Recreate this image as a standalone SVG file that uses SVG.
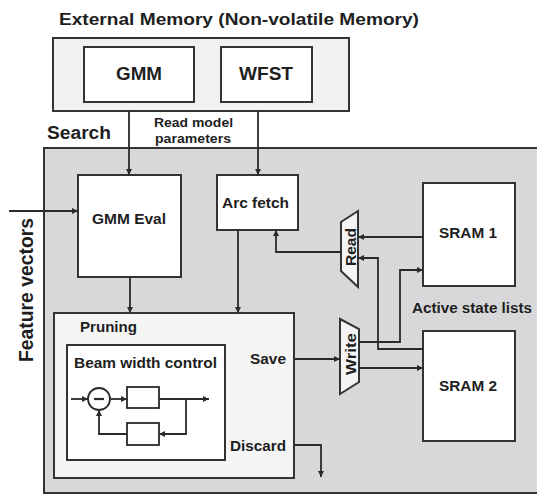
<svg xmlns="http://www.w3.org/2000/svg" width="537" height="497" viewBox="0 0 537 497">
<defs>
<marker id="ah" viewBox="0 0 10 10" refX="10" refY="5" markerWidth="6" markerHeight="6" markerUnits="userSpaceOnUse" orient="auto">
<path d="M0,0 L10,5 L0,10 z" fill="#2a2a2a"/>
</marker>
<style>
.t{font-family:"Liberation Sans",Arial,sans-serif;font-weight:bold;fill:#1e1e1e}
.box{fill:#ffffff;stroke:#333;stroke-width:2}
.ln{fill:none;stroke:#2a2a2a;stroke-width:1.8}
.ar{fill:none;stroke:#2a2a2a;stroke-width:1.8;marker-end:url(#ah)}
</style>
</defs>
<rect x="0" y="0" width="537" height="497" fill="#ffffff"/>
<text class="t" x="59" y="25" font-size="17" textLength="360" lengthAdjust="spacingAndGlyphs">External Memory (Non-volatile Memory)</text>
<g id="external-memory">
<rect x="53" y="38" width="296" height="73" fill="#f1f1f1" stroke="#333" stroke-width="2"/>
</g>
<g id="gmm">
<rect class="box" x="84" y="47" width="110" height="55"/>
<text class="t" x="139" y="80" font-size="18" text-anchor="middle" textLength="46" lengthAdjust="spacingAndGlyphs">GMM</text>
</g>
<g id="wfst">
<rect class="box" x="221" y="47" width="91" height="55"/>
<text class="t" x="266" y="80" font-size="18.5" text-anchor="middle" textLength="54" lengthAdjust="spacingAndGlyphs">WFST</text>
</g>
<text class="t" x="47" y="139" font-size="18" textLength="64" lengthAdjust="spacingAndGlyphs">Search</text>
<text class="t" x="193.5" y="127" font-size="12" text-anchor="middle" textLength="79" lengthAdjust="spacingAndGlyphs">Read model</text>
<text class="t" x="193" y="143" font-size="12" text-anchor="middle" textLength="76" lengthAdjust="spacingAndGlyphs">parameters</text>
<g id="search">
<rect x="44" y="148" width="500" height="345" fill="#d8d8da" stroke="#333" stroke-width="2"/>
</g>
<text class="t" transform="translate(33,290) rotate(-90)" font-size="19.5" text-anchor="middle" textLength="144" lengthAdjust="spacingAndGlyphs">Feature vectors</text>
<g id="gmm-eval">
<rect class="box" x="78" y="175" width="103" height="102"/>
<text class="t" x="129" y="224" font-size="15.5" text-anchor="middle" textLength="74" lengthAdjust="spacingAndGlyphs">GMM Eval</text>
</g>
<g id="arc-fetch">
<rect class="box" x="217" y="175" width="81" height="55"/>
<text class="t" x="255.5" y="208" font-size="15.5" text-anchor="middle" textLength="67" lengthAdjust="spacingAndGlyphs">Arc fetch</text>
</g>
<g id="sram1">
<rect class="box" x="423" y="183" width="92" height="103"/>
<text class="t" x="468" y="238" font-size="15" text-anchor="middle" textLength="58" lengthAdjust="spacingAndGlyphs">SRAM 1</text>
</g>
<text class="t" x="472" y="313" font-size="14.5" text-anchor="middle" textLength="120" lengthAdjust="spacingAndGlyphs">Active state lists</text>
<g id="sram2">
<rect class="box" x="423" y="331" width="92" height="110"/>
<text class="t" x="468" y="391" font-size="15" text-anchor="middle" textLength="58" lengthAdjust="spacingAndGlyphs">SRAM 2</text>
</g>
<g id="read-mux">
<polygon points="341,222 358,211 358,287 341,271" fill="#f4f4f4" stroke="#333" stroke-width="2"/>
<text class="t" transform="translate(355.5,247) rotate(-90)" font-size="15" text-anchor="middle" textLength="38" lengthAdjust="spacingAndGlyphs">Read</text>
</g>
<g id="write-mux">
<polygon points="340,319 359,329 359,382 340,394" fill="#f4f4f4" stroke="#333" stroke-width="2"/>
<text class="t" transform="translate(355.5,354) rotate(-90)" font-size="15.5" text-anchor="middle" textLength="42" lengthAdjust="spacingAndGlyphs">Write</text>
</g>
<g id="pruning">
<rect x="54" y="313" width="240" height="165" fill="#f5f5f5" stroke="#333" stroke-width="2"/>
<text class="t" x="80" y="332" font-size="15" textLength="57" lengthAdjust="spacingAndGlyphs">Pruning</text>
<text class="t" x="286" y="364" font-size="15" text-anchor="end" textLength="36" lengthAdjust="spacingAndGlyphs">Save</text>
<text class="t" x="286" y="451" font-size="15" text-anchor="end" textLength="56" lengthAdjust="spacingAndGlyphs">Discard</text>
</g>
<g id="beam-width-control">
<rect x="67" y="345" width="158" height="115" fill="#ffffff" stroke="#333" stroke-width="2"/>
<text class="t" x="74" y="368" font-size="15" textLength="143" lengthAdjust="spacingAndGlyphs">Beam width control</text>
<circle cx="99" cy="399" r="11" fill="none" stroke="#2a2a2a" stroke-width="1.8"/>
<line x1="94" y1="399" x2="104" y2="399" stroke="#2a2a2a" stroke-width="2.2"/>
<rect x="127" y="387" width="32" height="21" fill="none" stroke="#2a2a2a" stroke-width="1.8"/>
<rect x="127" y="423" width="32" height="22" fill="none" stroke="#2a2a2a" stroke-width="1.8"/>
<path class="ar" d="M71,399 H88"/>
<path class="ar" d="M110,399 H127"/>
<path class="ar" d="M159,399 H209"/>
<path class="ar" d="M186,399 V434 H159"/>
<path class="ar" d="M127,434 H99 V410"/>
</g>
<g id="connectors">
<path class="ar" d="M129,111 V175"/>
<path class="ar" d="M258,111 V175"/>
<path class="ar" d="M9,211 H78"/>
<path class="ar" d="M130,277 V313"/>
<path class="ar" d="M238,230 V313"/>
<path class="ar" d="M341,252 H276 V230"/>
<path class="ar" d="M423,237 H358"/>
<path class="ar" d="M423,349 H378 V258 H358"/>
<path class="ar" d="M359,342 H400 V270 H423"/>
<path class="ar" d="M359,368 H423"/>
<path class="ar" d="M294,359 H340"/>
<path class="ar" d="M294,445 H321 V477"/>
</g>
</svg>
